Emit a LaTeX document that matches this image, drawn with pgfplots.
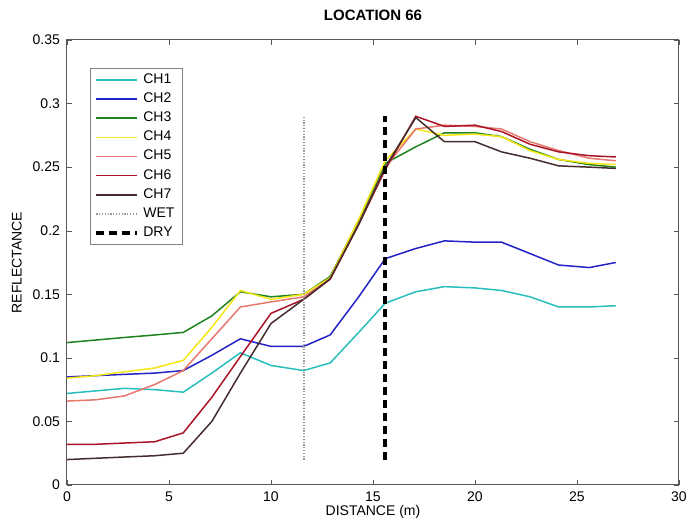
\documentclass[border=0pt]{standalone}
\usepackage{pgfplots}
\pgfplotsset{compat=1.18}
\usepackage{fontspec}
\setmainfont{Liberation Sans}

\definecolor{chA}{RGB}{40,190,190}
\definecolor{chB}{RGB}{35,35,200}
\definecolor{chC}{RGB}{30,130,30}
\definecolor{chD}{RGB}{245,230,20}
\definecolor{chE}{RGB}{232,120,110}
\definecolor{chF}{RGB}{170,20,40}
\definecolor{chG}{RGB}{70,45,45}

% distance (m) and reflectance of the seven channels
\pgfplotstableread{
x     c1    c2    c3    c4    c5    c6    c7
0.0   0.072 0.085 0.112 0.084 0.066 0.032 0.020
1.4   0.074 0.086 0.114 0.086 0.067 0.032 0.021
2.8   0.076 0.087 0.116 0.089 0.070 0.033 0.022
4.3   0.075 0.088 0.118 0.092 0.079 0.034 0.023
5.7   0.073 0.090 0.120 0.098 0.090 0.041 0.025
7.1   0.088 0.102 0.133 0.124 0.115 0.069 0.050
8.5   0.104 0.115 0.152 0.153 0.140 0.101 0.088
10.0  0.094 0.109 0.148 0.146 0.144 0.135 0.127
11.6  0.090 0.109 0.150 0.150 0.148 0.146 0.146
12.9  0.096 0.118 0.164 0.163 0.162 0.162 0.162
14.3  0.120 0.148 0.208 0.209 0.205 0.205 0.205
15.6  0.143 0.178 0.253 0.255 0.250 0.248 0.250
17.1  0.152 0.186 0.266 0.280 0.280 0.290 0.289
18.5  0.156 0.192 0.277 0.275 0.283 0.282 0.270
20.0  0.155 0.191 0.277 0.276 0.282 0.283 0.270
21.3  0.153 0.191 0.274 0.274 0.280 0.278 0.262
22.7  0.148 0.182 0.264 0.263 0.270 0.268 0.257
24.1  0.140 0.173 0.256 0.256 0.263 0.262 0.251
25.6  0.140 0.171 0.252 0.253 0.257 0.259 0.250
26.9  0.141 0.175 0.250 0.252 0.255 0.258 0.249
}\chdata

\begin{document}
\begin{tikzpicture}
\useasboundingbox (-33.5pt,-19pt) rectangle (309.5pt,242.5pt);
\begin{axis}[
    at={(0,0)}, anchor=south west,
    scale only axis,
    width=306pt, height=222.5pt,
    xmin=0, xmax=30, ymin=0, ymax=0.35,
    xtick={0,5,...,30},
    ytick={0,0.05,...,0.35},
    scaled y ticks=false,
    tick align=inside,
    ticks=both,
    major tick length=2.5pt,
    xtick pos=both, ytick pos=both,
    axis line style={gray!70!black, line width=0.5pt},
    tick style={gray!70!black},
    /pgf/number format/assume math mode=true,
    tick label style={font=\fontsize{7}{8}\selectfont},
    yticklabel style={/pgf/number format/fixed},
    title={LOCATION 66},
    title style={font=\bfseries\fontsize{7.5}{9}\selectfont, at={(0.5,1)}, anchor=south, yshift=0pt},
    xlabel={DISTANCE (m)},
    xlabel style={font=\fontsize{7}{8}\selectfont, at={(axis description cs:0.5,-0.061)}, anchor=center},
    ylabel={REFLECTANCE},
    ylabel style={font=\fontsize{7}{8}\selectfont, at={(axis description cs:-0.082,0.5)}, anchor=center},
    legend style={at={(axis description cs:0.0376,0.937)}, anchor=north west,
        draw=gray, fill=white, font=\fontsize{7}{8}\selectfont,
        row sep=-0.8pt, inner xsep=2pt, inner ysep=0.5pt},
    legend cell align=left,
    legend image code/.code={\draw[#1] (0cm,0cm) -- (0.72cm,0cm);},
    every axis plot/.append style={line width=0.75pt},
]
\addplot[chA] table[x=x, y=c1] {\chdata};
\addlegendentry{CH1}
\addplot[chB] table[x=x, y=c2] {\chdata};
\addlegendentry{CH2}
\addplot[chC] table[x=x, y=c3] {\chdata};
\addlegendentry{CH3}
\addplot[chD] table[x=x, y=c4] {\chdata};
\addlegendentry{CH4}
\addplot[chE] table[x=x, y=c5] {\chdata};
\addlegendentry{CH5}
\addplot[chF] table[x=x, y=c6] {\chdata};
\addlegendentry{CH6}
\addplot[chG] table[x=x, y=c7] {\chdata};
\addlegendentry{CH7}

% wet and dry boundaries
\addplot[gray!80, line width=1pt, dash pattern=on 0.6pt off 0.8pt] coordinates {(11.6,0.02) (11.6,0.29)};
\addlegendentry{WET}
\addplot[black, line width=2pt, dash pattern=on 4pt off 2.5pt] coordinates {(15.6,0.02) (15.6,0.29)};
\addlegendentry{DRY}
\end{axis}
\end{tikzpicture}
\end{document}
